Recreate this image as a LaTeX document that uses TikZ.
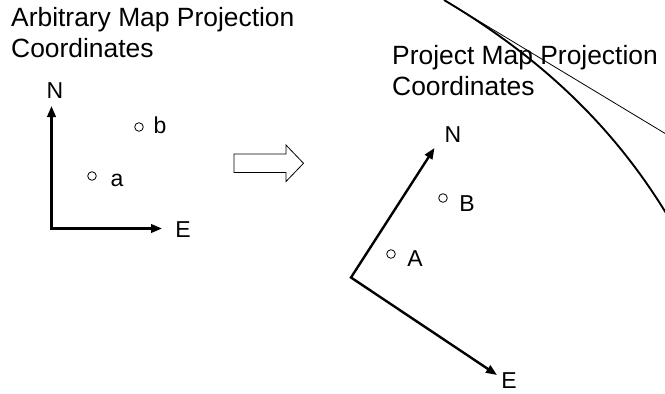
\documentclass[tikz,border=0pt]{standalone}
\usepackage{fontspec}
\setmainfont{Liberation Sans}
\usetikzlibrary{arrows.meta}
\tikzset{
  title/.style={anchor=north west, inner sep=0pt, align=left, font=\fontsize{26.4}{31}\selectfont},
  lbl/.style={inner sep=0pt, font=\fontsize{23}{26}\selectfont},
  tip/.tip={Triangle[length=11pt,width=8.5pt]},
  axis/.style={line width=2.4pt},
  pt/.style={circle, draw, line width=0.8pt, minimum size=8.6pt, inner sep=0pt},
  thinline/.style={line width=0.8pt},
  thickline/.style={line width=1.9pt}
}
\begin{document}
\begin{tikzpicture}[x=1pt,y=-1pt]
\useasboundingbox (0,0) rectangle (665,394);
% titles
\node[title] (t1) at (11,7) {Arbitrary Map Projection\\Coordinates};
\node[title] (t2) at (392,45) {Project Map Projection\\Coordinates};
% left axes
\coordinate (o1) at (51.5,228.5);
\coordinate (n1) at (51.5,106);
\coordinate (e1) at (162,228.5);
\draw[axis, line join=miter, tip-tip] (n1) -- (o1) -- (e1);
\node[lbl] (N1) at (55,91) {N};
\node[lbl] (E1) at (183,230) {E};
\node[pt] (pb) at (139,127) {};
\node[lbl] (lb) at (160,125) {b};
\node[pt] (pa) at (92,176) {};
\node[lbl] (la) at (117,180) {a};
% block arrow
\draw[line width=0.8pt] (234,154) -- (286,154) -- (286,145) -- (303.5,163.3) -- (286,181.5) -- (286,172.5) -- (234,172.5) -- cycle;
% right axes
\coordinate (o2) at (351,277.5);
\coordinate (n2) at (434.5,148);
\coordinate (e2) at (497,375);
\draw[axis, line join=miter, tip-tip] (n2) -- (o2) -- (e2);
\node[lbl] (N2) at (453,135) {N};
\node[lbl] (E2) at (509,381) {E};
\node[pt] (pB) at (443,198) {};
\node[lbl] (lB) at (467,204) {B};
\node[pt] (pA) at (391,254) {};
\node[lbl] (lA) at (415,259) {A};
% curves
\coordinate (c0) at (444,0);
\coordinate (c1) at (666,134);
\coordinate (c2) at (666,213);
\draw[thinline] (c0) -- (c1);
\draw[thickline] (c0) .. controls (540,57) and (612,125) .. (c2);
\end{tikzpicture}
\end{document}
